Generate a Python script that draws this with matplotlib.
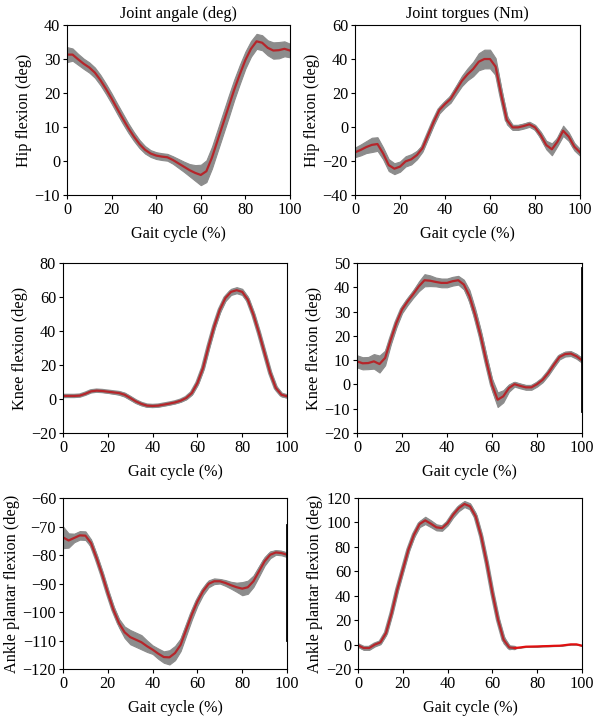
import matplotlib.pyplot as plt

# gait cycle (%) sample points
gait = [0, 2.5, 5, 7.5, 10, 12.5, 15, 17.5, 20, 22.5, 25, 27.5, 30, 32.5, 35, 37.5, 40,
        42.5, 45, 47.5, 50, 52.5, 55, 57.5, 60, 62.5, 65, 67.5, 70, 72.5, 75, 77.5, 80,
        82.5, 85, 87.5, 90, 92.5, 95, 97.5, 100]

# hip joint angle (deg)
hip_ang_mean = [31.3, 31.3, 29.9, 28.6, 27.5, 26.0, 23.8, 21.2, 18.4, 15.4, 12.5, 9.7, 7.2,
                5.0, 3.3, 2.2, 1.6, 1.3, 1.1, 0.3, -0.7, -1.7, -2.7, -3.5, -4.1, -3.0, 1.0,
                6.0, 11.0, 16.0, 21.0, 25.5, 29.7, 33.0, 35.2, 34.8, 33.3, 32.5, 32.6, 33.0, 32.5]
hip_ang_sd = [2.2, 1.8, 1.6, 1.5, 1.5, 1.5, 1.5, 1.5, 1.5, 1.5, 1.5, 1.4, 1.3, 1.2, 1.1, 1.0,
              1.0, 1.0, 1.0, 1.1, 1.3, 1.5, 1.8, 2.3, 3.0, 3.2, 3.2, 3.2, 3.2, 3.2, 3.0, 2.8,
              2.5, 2.3, 2.2, 2.2, 2.2, 2.4, 2.4, 2.2, 2.0]

# hip joint torque
hip_tq_mean = [-14.9, -13.5, -11.8, -10.5, -10.0, -15.5, -22.4, -24.5, -23.3, -20.2, -19.0,
               -16.5, -12.5, -4.7, 3.1, 10.0, 13.5, 16.5, 21.8, 27.1, 31.0, 34.1, 38.4, 40.0,
               40.0, 35.5, 19.0, 4.1, -0.2, -0.2, 0.6, 1.6, -0.2, -4.7, -10.6, -13.1, -8.6,
               -2.2, -5.7, -11.6, -14.9]
hip_tq_sd = [2.8, 3.2, 3.5, 4.2, 4.0, 3.5, 3.5, 3.2, 3.0, 3.0, 3.0, 2.5, 2.0, 2.0, 2.0, 2.0,
             2.0, 2.2, 2.5, 3.0, 3.5, 4.2, 5.0, 5.5, 5.5, 5.0, 4.0, 2.5, 1.5, 1.5, 1.5, 1.5,
             1.5, 2.0, 2.5, 3.5, 2.5, 3.0, 2.5, 2.2, 2.0]

# knee joint angle (deg)
knee_ang_mean = [1.8, 1.8, 1.8, 2.0, 3.1, 4.5, 4.9, 4.7, 4.3, 3.9, 3.5, 2.5, 0.6, -1.4, -2.9,
                 -3.9, -4.1, -3.9, -3.3, -2.7, -2.0, -1.0, 0.6, 3.5, 9.4, 18.2, 31.0, 42.7,
                 52.5, 59.4, 63.0, 64.0, 63.0, 58.4, 49.6, 38.8, 27.0, 15.3, 6.5, 2.5, 1.6]
knee_ang_sd = [0.3, 0.3, 0.3, 0.3, 0.3, 0.4, 0.4, 0.5, 0.6, 0.8, 1.0, 1.1, 1.1, 1.0, 0.8, 0.6,
               0.5, 0.5, 0.5, 0.5, 0.5, 0.6, 0.8, 1.0, 1.3, 1.6, 1.8, 1.8, 1.8, 1.8, 1.8, 1.8,
               1.8, 1.8, 1.8, 1.8, 1.8, 1.7, 1.5, 1.0, 0.8]

# knee joint torque
knee_tq_mean = [9.5, 8.7, 8.8, 9.5, 8.4, 10.9, 18.4, 25.3, 30.8, 34.2, 37.2, 40.4, 42.9, 42.7,
                42.2, 41.8, 41.8, 42.5, 42.9, 41.1, 36.3, 28.7, 19.8, 9.5, -0.1, -6.3, -4.9,
                -1.5, 0.1, -0.6, -1.2, -1.2, 0.1, 1.9, 4.7, 8.1, 11.3, 12.5, 12.7, 11.6, 9.9]
knee_tq_sd = [2.5, 2.5, 2.5, 3.0, 3.5, 3.0, 2.0, 1.8, 1.5, 1.5, 1.5, 2.0, 2.5, 2.2, 1.8, 1.8,
              1.8, 1.8, 1.8, 2.0, 2.5, 2.5, 2.5, 2.5, 2.5, 3.0, 2.5, 1.5, 1.0, 1.0, 1.0, 1.0,
              1.0, 1.0, 1.0, 1.0, 1.0, 1.0, 1.0, 1.0, 1.0]

# ankle joint angle (deg)
ank_ang_mean = [-73.8, -74.9, -74.0, -73.1, -73.2, -75.8, -81.1, -86.9, -93.3, -99.2, -103.9,
                -107.1, -108.8, -109.7, -110.6, -112.0, -113.2, -114.6, -115.8, -115.9,
                -114.4, -111.5, -106.2, -100.9, -96.3, -92.7, -90.1, -89.2, -89.2, -89.8,
                -90.6, -91.3, -91.8, -91.3, -89.2, -85.7, -82.2, -79.9, -79.1, -79.3, -79.9]
ank_ang_sd = [3.8, 2.5, 1.5, 1.5, 1.5, 1.3, 1.2, 1.2, 1.2, 1.3, 1.5, 2.0, 2.5, 2.5, 2.5, 2.0,
              1.5, 1.8, 2.0, 2.5, 2.5, 2.2, 2.0, 1.8, 1.5, 1.3, 1.2, 1.0, 0.8, 1.0, 1.2, 1.6,
              2.3, 2.3, 2.0, 1.8, 1.5, 1.2, 0.8, 0.8, 0.8]

# ankle joint torque
ank_tq_mean = [-0.6, -2.8, -2.8, 0.0, 1.8, 9.5, 25.8, 44.9, 61.3, 77.7, 90.0, 98.7, 101.7,
               99.0, 96.0, 95.4, 99.5, 106.4, 111.8, 115.1, 113.2, 105.0, 88.6, 66.8, 42.2,
               20.4, 4.0, -2.3, -2.8, -2.3, -1.7, -1.6, -1.5, -1.3, -1.2, -1.0, -0.9, -0.4,
               0.2, 0.2, -0.9]
ank_tq_sd = [1.0, 1.5, 1.5, 1.5, 1.5, 1.8, 2.0, 2.0, 2.0, 2.0, 2.2, 2.5, 3.0, 2.8, 2.5, 2.2,
             2.0, 2.2, 2.5, 2.5, 2.5, 2.8, 3.0, 3.0, 3.0, 3.0, 3.0, 1.5, 0.3, 0.2, 0.2, 0.2,
             0.2, 0.2, 0.2, 0.2, 0.2, 0.2, 0.2, 0.2, 0.2]

panels = [
    (hip_ang_mean, hip_ang_sd, 'Hip flexion (deg)', (-10, 40), [-10, 0, 10, 20, 30, 40]),
    (hip_tq_mean, hip_tq_sd, 'Hip flexion (deg)', (-40, 60), [-40, -20, 0, 20, 40, 60]),
    (knee_ang_mean, knee_ang_sd, 'Knee flexion (deg)', (-20, 80), [-20, 0, 20, 40, 60, 80]),
    (knee_tq_mean, knee_tq_sd, 'Knee flexion (deg)', (-20, 50), [-20, -10, 0, 10, 20, 30, 40, 50]),
    (ank_ang_mean, ank_ang_sd, 'Ankle plantar flexion (deg)', (-120, -60),
     [-120, -110, -100, -90, -80, -70, -60]),
    (ank_tq_mean, ank_tq_sd, 'Ankle plantar flexion (deg)', (-20, 120),
     [-20, 0, 20, 40, 60, 80, 100, 120]),
]

# axes boxes [left, bottom, width, height] in figure fraction
boxes = [
    [0.1126, 0.7280, 0.3748, 0.2371],
    [0.5966, 0.7280, 0.3782, 0.2371],
    [0.1059, 0.3961, 0.3765, 0.2371],
    [0.6000, 0.3961, 0.3782, 0.2371],
    [0.1059, 0.0669, 0.3765, 0.2385],
    [0.6017, 0.0669, 0.3765, 0.2385],
]

plt.rcParams['font.family'] = ['Liberation Serif', 'DejaVu Serif']
plt.rcParams['font.size'] = 11.7
plt.rcParams['axes.unicode_minus'] = True

gray = '#8c8c8c'
red = '#b5262b'

fig = plt.figure(figsize=(5.95, 7.17), dpi=100)
axes = []
for i, ((mean, sd, ylab, ylim, yt), box) in enumerate(zip(panels, boxes)):
    ax = fig.add_axes(box)
    lo = [m - s for m, s in zip(mean, sd)]
    hi = [m + s for m, s in zip(mean, sd)]
    ax.fill_between(gait, lo, hi, color=gray, linewidth=0.8, edgecolor=gray)
    if i == 5:
        # flat tail of the ankle torque carries almost no spread
        ax.plot(gait[:29], mean[:29], color=gray, lw=3.2, solid_capstyle='round')
        ax.plot(gait[:29], mean[:29], color=red, lw=1.6)
        ax.plot(gait[28:], mean[28:], color='#e01010', lw=1.6)
    else:
        ax.plot(gait, mean, color=gray, lw=3.2, solid_capstyle='round')
        ax.plot(gait, mean, color=red, lw=1.6)
    ax.set_xlim(0, 100)
    ax.set_ylim(*ylim)
    ax.set_yticks(yt)
    ax.set_xticks([0, 20, 40, 60, 80, 100])
    ax.set_xlabel('Gait cycle (%)', labelpad=6)
    ax.set_ylabel(ylab, labelpad=2)
    ax.tick_params(direction='out', length=3, width=0.8, pad=2)
    for sp in ax.spines.values():
        sp.set_linewidth(0.8)
    axes.append(ax)

axes[0].set_title('Joint angale (deg)', fontsize=11.7, pad=5)
axes[1].set_title('Joint torgues (Nm)', fontsize=11.7, pad=5)

# heavier right edges as in the original figure
axes[3].axvline(100, ymin=0.13, ymax=0.97, color='black', lw=2)
axes[4].axvline(100, ymin=0.17, ymax=0.84, color='black', lw=2)

fig.savefig('out.png', dpi=100)
